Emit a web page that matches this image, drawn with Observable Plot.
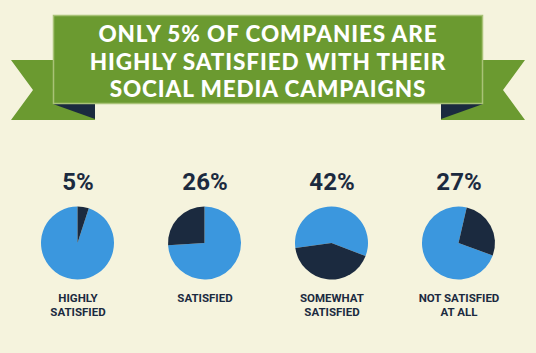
<!DOCTYPE html>
<html>
<head>
<meta charset="utf-8">
<script src="https://cdn.jsdelivr.net/npm/d3@7"></script>
<script src="https://cdn.jsdelivr.net/npm/@observablehq/plot@0.6"></script>
<style>
  html, body { margin: 0; padding: 0; background: #f5f3dd; }
  #page { position: relative; width: 536px; height: 353px; background: #f5f3dd; overflow: hidden; }
  #banner { position: absolute; left: 0; top: 0; }
  #title { position: absolute; left: 0; top: 20px; width: 536px; text-align: center;
    font-family: Lato, sans-serif; font-weight: 900; font-size: 22.5px; line-height: 27.5px;
    color: #ffffff; letter-spacing: 0.9px; }
  #title div { height: 27.5px; }
  #chart { position: absolute; left: 0; top: 150px; }
</style>
</head>
<body>
<div id="page">
  <svg id="banner" width="536" height="130">
    <polygon points="11,60 95,60 95,120 11,120 33,90" fill="#6b9a30"/>
    <polygon points="525,60 441,60 441,120 525,120 503,90" fill="#6b9a30"/>
    <polygon points="53,104 95,104 95,119" fill="#1b2a3f"/>
    <polygon points="483,104 441,104 441,119" fill="#1b2a3f"/>
    <rect x="53.5" y="15.5" width="429" height="88" fill="#6b9a30" stroke="#a9c277" stroke-width="1.5"/>
  </svg>
  <div id="title"><div>ONLY 5% OF COMPANIES ARE</div><div>HIGHLY SATISFIED WITH THEIR</div><div>SOCIAL MEDIA CAMPAIGNS</div></div>
  <div id="chart"></div>
</div>
<script>
// Data
const categories = ["HIGHLY SATISFIED", "SATISFIED", "SOMEWHAT SATISFIED", "NOT SATISFIED AT ALL"];
const labels = ["HIGHLY\nSATISFIED", "SATISFIED", "SOMEWHAT\nSATISFIED", "NOT SATISFIED\nAT ALL"];
const percents = [5, 26, 42, 27];
// where each dark slice begins (degrees clockwise from 12 o'clock), as drawn in the reference
const darkStartDeg = [0, -93.6, 111, 13];

const blue = "#3b97de";
const navy = "#1b2a3f";
const radius = 36.5;

const data = categories.map((c, i) => ({
  category: c, label: labels[i], value: percents[i], start: darkStartDeg[i]
}));

function pieMark(index, scales, values, dims) {
  const x = scales.x;
  const bw = x.bandwidth ? x.bandwidth() : (dims.width - dims.marginLeft - dims.marginRight) / categories.length;
  const cy = dims.marginTop + (dims.height - dims.marginTop - dims.marginBottom) / 2;
  const g = d3.create("svg:g");
  const arc = d3.arc().innerRadius(0).outerRadius(radius);
  for (const d of data) {
    const cx = x(d.category) + bw / 2;
    const a0 = d.start * Math.PI / 180;
    const a1 = a0 + d.value / 100 * 2 * Math.PI;
    const gg = g.append("g").attr("transform", `translate(${cx},${cy})`);
    gg.append("path").attr("d", arc({startAngle: a1, endAngle: a0 + 2 * Math.PI})).attr("fill", blue);
    gg.append("path").attr("d", arc({startAngle: a0, endAngle: a1})).attr("fill", navy);
  }
  return g.node();
}

const chart = Plot.plot({
  width: 536,
  height: 203,
  marginLeft: 14,
  marginRight: 14,
  marginTop: 0,
  marginBottom: 17,
  style: { background: "transparent", overflow: "visible" },
  x: { type: "band", domain: categories, padding: 0, axis: null },
  marks: [
    pieMark,
    Plot.text(data, {
      x: "category", text: d => d.value + "%", dy: -61.5, frameAnchor: "middle",
      fontSize: 24, fontWeight: 700, fill: navy, fontFamily: "Roboto, sans-serif"
    }),
    Plot.text(data, {
      x: "category", text: "label", dy: 49.5, lineAnchor: "top", lineHeight: 1.15,
      fontSize: 11.5, fontWeight: 700, fill: navy, fontFamily: "Roboto, sans-serif",
      style: "letter-spacing: 0.3px"
    })
  ]
});
document.getElementById("chart").appendChild(chart);
</script>
</body>
</html>
